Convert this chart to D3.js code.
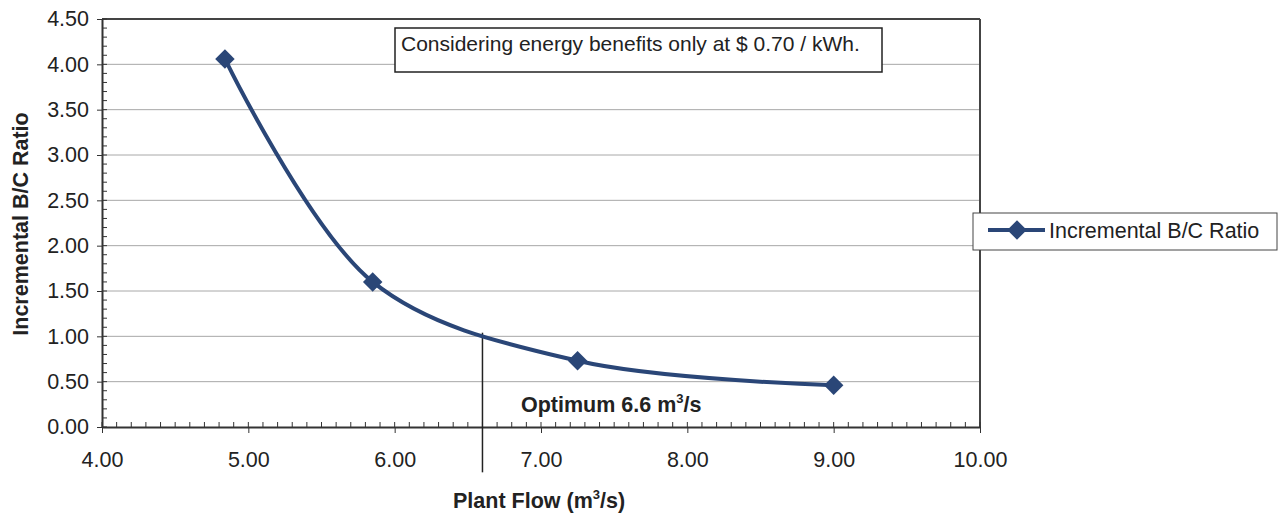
<!DOCTYPE html>
<html>
<head>
<meta charset="utf-8">
<script src="https://cdn.jsdelivr.net/npm/d3@7"></script>
<style>
  body { margin: 0; background: #fff; }
  text { font-family: "Liberation Sans", Arial, sans-serif; fill: #222; }
</style>
</head>
<body>
<svg id="plot"></svg>
<script>
// data
const plantFlow = [4.84, 5.85, 7.25, 9.0];
const bcRatio = [4.06, 1.60, 0.73, 0.46];
const xTicks = [4, 5, 6, 7, 8, 9, 10];
const yTicks = [0, 0.5, 1, 1.5, 2, 2.5, 3, 3.5, 4, 4.5];
const seriesName = "Incremental B/C Ratio";
const noteText = "Considering energy benefits only at $ 0.70 / kWh.";
const optimumFlow = 6.6;
const optimumRange = [-0.5, 1.04];

let dimensions = {
    width: 1280,
    height: 515,
    left: 102,
    right: 980,
    top: 19,
    bottom: 427,
};

const lineColor = "#2a4677";

const svg = d3.select("#plot")
    .attr("width", dimensions.width)
    .attr("height", dimensions.height);

const xScale = d3.scaleLinear().domain([4, 10]).range([dimensions.left, dimensions.right]);
const yScale = d3.scaleLinear().domain([0, 4.5]).range([dimensions.bottom, dimensions.top]);

// grid lines
svg.append("g")
    .selectAll("line")
    .data(yTicks.filter(d => d > 0 && d < 4.5))
    .join("line")
    .attr("x1", dimensions.left)
    .attr("x2", dimensions.right)
    .attr("y1", d => yScale(d))
    .attr("y2", d => yScale(d))
    .attr("stroke", "#a8a8a8")
    .attr("stroke-width", 1);

// top and right frame
svg.append("line")
    .attr("x1", dimensions.left).attr("x2", dimensions.right)
    .attr("y1", dimensions.top).attr("y2", dimensions.top)
    .attr("stroke", "#444").attr("stroke-width", 2);
svg.append("line")
    .attr("x1", dimensions.right).attr("x2", dimensions.right)
    .attr("y1", dimensions.top).attr("y2", dimensions.bottom)
    .attr("stroke", "#444").attr("stroke-width", 2);

// minor ticks
const xMinor = d3.range(40, 101).map(d => d / 10);
const yMinor = d3.range(0, 46).map(d => d / 10);

svg.append("g").selectAll("line")
    .data(xMinor)
    .join("line")
    .attr("x1", d => xScale(d)).attr("x2", d => xScale(d))
    .attr("y1", dimensions.bottom).attr("y2", dimensions.bottom - 5)
    .attr("stroke", "#333");

svg.append("g").selectAll("line")
    .data(yMinor)
    .join("line")
    .attr("x1", dimensions.left).attr("x2", dimensions.left + 5)
    .attr("y1", d => yScale(d)).attr("y2", d => yScale(d))
    .attr("stroke", "#333");

// axes
const xAxis = d3.axisBottom(xScale)
    .tickValues(xTicks)
    .tickFormat(d3.format(".2f"))
    .tickSizeInner(6)
    .tickSizeOuter(0)
    .tickPadding(19);

const yAxis = d3.axisLeft(yScale)
    .tickValues(yTicks)
    .tickFormat(d3.format(".2f"))
    .tickSizeInner(5)
    .tickSizeOuter(0)
    .tickPadding(8);

const gx = svg.append("g")
    .attr("transform", `translate(0, ${dimensions.bottom})`)
    .call(xAxis);
const gy = svg.append("g")
    .attr("transform", `translate(${dimensions.left}, 0)`)
    .call(yAxis);

[gx, gy].forEach(g => {
    g.selectAll("text")
        .style("font-family", "'Liberation Sans', Arial, sans-serif")
        .style("font-size", "21.5px")
        .attr("fill", "#222");
    g.selectAll("line").attr("stroke", "#333");
    g.select(".domain").attr("stroke", "#333").attr("stroke-width", 2);
});

// optimum line
svg.append("line")
    .attr("x1", xScale(optimumFlow)).attr("x2", xScale(optimumFlow))
    .attr("y1", yScale(optimumRange[1])).attr("y2", yScale(optimumRange[0]))
    .attr("stroke", "#222")
    .attr("stroke-width", 1.5);

const opt = svg.append("text")
    .attr("x", 521)
    .attr("y", 412)
    .style("font-size", "21.5px")
    .style("font-weight", "bold");
opt.append("tspan").text("Optimum 6.6 m");
opt.append("tspan").attr("dy", -9).style("font-size", "13px").text("3");
opt.append("tspan").attr("dy", 9).text("/s");

// series line
const line = d3.line()
    .x((d, i) => xScale(plantFlow[i]))
    .y(d => yScale(d))
    .curve(d3.curveCatmullRom.alpha(0.5));

svg.append("path")
    .datum(bcRatio)
    .attr("d", line)
    .attr("fill", "none")
    .attr("stroke", lineColor)
    .attr("stroke-width", 4);

const diamond = d3.symbol().type(d3.symbolSquare).size(190);

svg.append("g")
    .selectAll("path")
    .data(bcRatio)
    .join("path")
    .attr("d", diamond)
    .attr("transform", (d, i) => `translate(${xScale(plantFlow[i])}, ${yScale(d)}) rotate(45)`)
    .attr("fill", lineColor);

// note box
svg.append("rect")
    .attr("x", 395).attr("y", 28)
    .attr("width", 487).attr("height", 44)
    .attr("fill", "#fff")
    .attr("stroke", "#222")
    .attr("stroke-width", 1.5);
svg.append("text")
    .attr("x", 401).attr("y", 51)
    .style("font-size", "21px")
    .text(noteText);

// legend
svg.append("rect")
    .attr("x", 973).attr("y", 213)
    .attr("width", 304).attr("height", 37)
    .attr("fill", "#fff")
    .attr("stroke", "#444")
    .attr("stroke-width", 1);
svg.append("line")
    .attr("x1", 988).attr("x2", 1045)
    .attr("y1", 230).attr("y2", 230)
    .attr("stroke", lineColor).attr("stroke-width", 4);
svg.append("path")
    .attr("d", diamond)
    .attr("transform", "translate(1017, 230) rotate(45)")
    .attr("fill", lineColor);
svg.append("text")
    .attr("x", 1049).attr("y", 238)
    .style("font-size", "21.5px")
    .text(seriesName);

// axis titles
svg.append("text")
    .attr("transform", "translate(28, 224) rotate(-90)")
    .attr("text-anchor", "middle")
    .style("font-size", "21.5px")
    .style("font-weight", "bold")
    .text("Incremental B/C Ratio");

const xt = svg.append("text")
    .attr("x", 453)
    .attr("y", 508)
    .style("font-size", "21.5px")
    .style("font-weight", "bold");
xt.append("tspan").text("Plant Flow (m");
xt.append("tspan").attr("dy", -9).style("font-size", "13px").text("3");
xt.append("tspan").attr("dy", 9).text("/s)");
</script>
</body>
</html>
